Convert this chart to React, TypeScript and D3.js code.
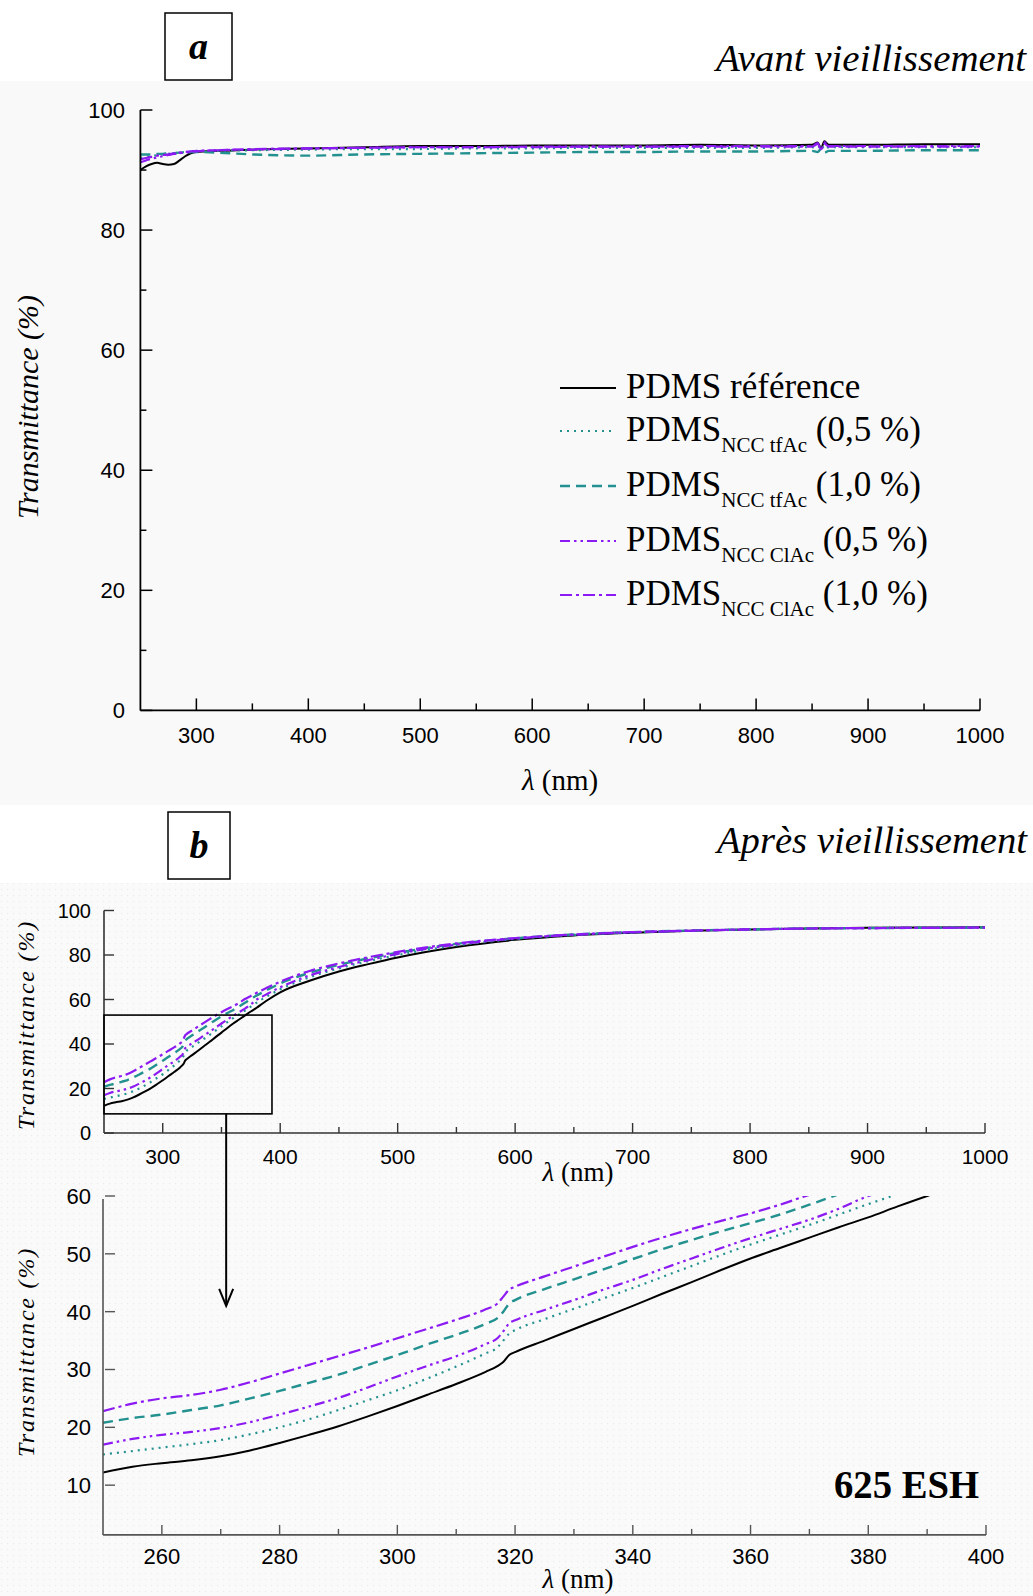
import React from "react";
import * as d3 from "d3";

// ---------- DATA ----------
const seriesNames = [
  "PDMS référence",
  "PDMS NCC tfAc (0,5 %)",
  "PDMS NCC tfAc (1,0 %)",
  "PDMS NCC ClAc (0,5 %)",
  "PDMS NCC ClAc (1,0 %)",
];
const legendSubs = ["", "NCC tfAc", "NCC tfAc", "NCC ClAc", "NCC ClAc"];
const legendTails = [" référence", " (0,5 %)", " (1,0 %)", " (0,5 %)", " (1,0 %)"];

// Panel a : before ageing
const wlA = [250, 255, 260, 265, 270, 275, 280, 285, 290, 295, 300, 320, 350, 400, 450, 500, 550, 600, 650, 700, 750, 800, 850, 855, 858, 861, 865, 900, 950, 1000];
const aRef = [90.0, 90.6, 91.0, 91.2, 91.0, 90.9, 91.0, 91.6, 92.3, 92.8, 93.0, 93.2, 93.4, 93.6, 93.8, 94.0, 94.0, 94.1, 94.1, 94.1, 94.2, 94.1, 94.2, 94.6, 93.6, 94.8, 94.2, 94.2, 94.3, 94.3];
const aTf05 = [92.0, 92.2, 92.3, 92.5, 92.6, 92.7, 92.8, 92.9, 93.0, 93.0, 93.1, 93.2, 93.3, 93.4, 93.5, 93.5, 93.6, 93.6, 93.7, 93.7, 93.7, 93.7, 93.8, 93.6, 94.3, 93.4, 93.8, 93.8, 93.8, 93.8];
const aTf10 = [92.6, 92.6, 92.6, 92.7, 92.7, 92.8, 92.8, 92.9, 92.9, 93.0, 93.0, 92.9, 92.6, 92.4, 92.6, 92.7, 92.8, 92.9, 93.0, 93.0, 93.1, 93.1, 93.2, 93.0, 93.5, 92.9, 93.2, 93.2, 93.3, 93.3];
const aCl05 = [91.3, 91.6, 91.9, 92.1, 92.3, 92.5, 92.7, 92.8, 92.9, 93.0, 93.1, 93.3, 93.4, 93.6, 93.7, 93.8, 93.8, 93.9, 93.9, 93.9, 94.0, 94.0, 94.0, 94.5, 93.3, 94.6, 94.0, 94.0, 94.0, 94.0];
const aCl10 = [91.8, 92.0, 92.2, 92.4, 92.5, 92.6, 92.8, 92.9, 93.0, 93.1, 93.2, 93.3, 93.5, 93.6, 93.7, 93.8, 93.8, 93.8, 93.9, 93.9, 93.9, 93.9, 93.9, 94.3, 93.5, 94.4, 93.9, 93.9, 93.9, 93.9];

// Panel b : after ageing (625 ESH)
const wlB = [250, 255, 260, 265, 270, 275, 280, 285, 290, 295, 300, 305, 310, 315, 317, 318, 319, 320, 325, 330, 335, 340, 345, 350, 355, 360, 365, 370, 375, 380, 385, 390, 400, 425, 450, 475, 500, 550, 600, 650, 700, 750, 800, 850, 900, 950, 1000];
const bRef = [12.2, 13.2, 13.8, 14.3, 15.0, 16.0, 17.3, 18.7, 20.2, 21.9, 23.7, 25.6, 27.5, 29.6, 30.6, 31.3, 32.5, 33.0, 35.0, 37.0, 39.0, 41.0, 43.1, 45.1, 47.2, 49.2, 51.0, 52.8, 54.6, 56.3, 58.2, 60.0, 63.2, 68.4, 72.6, 75.9, 78.9, 83.6, 86.8, 88.8, 90.0, 90.9, 91.5, 91.9, 92.2, 92.4, 92.5];
const bTf05 = [15.3, 15.9, 16.5, 17.1, 17.8, 18.8, 20.0, 21.4, 23.0, 24.7, 26.4, 28.4, 30.5, 32.8, 33.8, 35.0, 36.2, 36.8, 38.7, 40.5, 42.3, 44.1, 46.0, 47.9, 49.8, 51.6, 53.3, 55.0, 56.8, 58.6, 60.3, 61.8, 64.6, 70.0, 74.0, 77.2, 80.0, 84.3, 87.2, 89.0, 90.1, 90.9, 91.5, 91.9, 92.1, 92.3, 92.4];
const bTf10 = [20.8, 21.6, 22.2, 23.0, 23.8, 25.0, 26.3, 27.7, 29.1, 30.8, 32.5, 34.3, 36.0, 37.9, 38.9, 40.0, 41.4, 42.0, 43.9, 45.6, 47.3, 49.1, 50.8, 52.4, 53.9, 55.3, 56.8, 58.5, 60.3, 61.8, 63.2, 64.6, 67.2, 72.0, 75.6, 78.5, 81.0, 85.0, 87.5, 89.2, 90.3, 91.0, 91.5, 91.9, 92.1, 92.2, 92.3];
const bCl05 = [17.0, 18.0, 18.7, 19.2, 19.9, 20.9, 22.2, 23.6, 25.1, 26.9, 28.8, 30.6, 32.3, 34.4, 35.4, 36.6, 38.0, 38.5, 40.3, 42.0, 43.8, 45.5, 47.4, 49.2, 51.0, 52.7, 54.3, 55.9, 57.8, 60.0, 61.4, 62.8, 65.5, 70.8, 74.6, 77.7, 80.5, 84.7, 87.4, 89.1, 90.2, 90.9, 91.5, 91.9, 92.1, 92.2, 92.3];
const bCl10 = [22.8, 24.1, 25.0, 25.6, 26.5, 27.8, 29.3, 30.8, 32.3, 33.8, 35.4, 37.0, 38.6, 40.4, 41.4, 42.6, 43.8, 44.3, 46.1, 47.8, 49.5, 51.2, 52.8, 54.3, 55.7, 57.0, 58.5, 60.2, 61.6, 63.0, 64.3, 65.6, 68.0, 72.8, 76.2, 79.0, 81.4, 85.2, 87.6, 89.2, 90.3, 91.0, 91.5, 91.9, 92.1, 92.2, 92.3];

const panelAValues = [aRef, aTf05, aTf10, aCl05, aCl10];
const panelBValues = [bRef, bTf05, bTf10, bCl05, bCl10];

const xTicksA = [300, 400, 500, 600, 700, 800, 900, 1000];
const xMinorA = [350, 450, 550, 650, 750, 850, 950];
const yTicksA = [0, 20, 40, 60, 80, 100];
const yMinorA = [10, 30, 50, 70, 90];
const yTicksB = [0, 20, 40, 60, 80, 100];
const xTicksC = [260, 280, 300, 320, 340, 360, 380, 400];
const xMinorC = [270, 290, 310, 330, 350, 370, 390];
const yTicksC = [10, 20, 30, 40, 50, 60];
const zoomBox = { x0: 250, x1: 393, y0: 8.6, y1: 53 };
const arrowX = 354;

// ---------- STYLES ----------
const TEAL = "#23918f";
const PURPLE = "#8c1af2";
const styles = [
  { color: "#000", dash: "none", w: 2 },
  { color: TEAL, dash: "2,5", w: 2.2 },
  { color: TEAL, dash: "10,6", w: 2.4 },
  { color: PURPLE, dash: "10,4,2.5,4,2.5,4", w: 2.2 },
  { color: PURPLE, dash: "12,4,3,4", w: 2.2 },
];
const SANS = "'Liberation Sans', Arial, sans-serif";
const SERIF = "'Liberation Serif', 'Times New Roman', serif";

export default function App() {
  const W = 1033, H = 1596;
  const xA = d3.scaleLinear().domain([250, 1000]).range([140.4, 980]);
  const yA = d3.scaleLinear().domain([0, 100]).range([710.4, 110]);
  const xB = d3.scaleLinear().domain([250, 1000]).range([104, 985]);
  const yB = d3.scaleLinear().domain([0, 100]).range([1133, 910.5]);
  const xC = d3.scaleLinear().domain([250, 400]).range([103, 986]);
  const yC = d3.scaleLinear().domain([0, 60]).range([1543, 1196]);
  const yCaxis = yC(1.4);

  const lineOf = (xs: number[], x: any, y: any) =>
    d3.line<number>().x((_, i) => x(xs[i])).y((v) => y(v)).curve(d3.curveMonotoneX);

  const renderLines = (vals: number[][], xs: number[], x: any, y: any, clip?: string) => (
    <g clipPath={clip ? `url(#${clip})` : undefined}>
      {vals.map((v, k) => (
        <path key={k} d={lineOf(xs, x, y)(v) || ""} fill="none" stroke={styles[k].color}
          strokeWidth={styles[k].w} strokeDasharray={styles[k].dash} strokeLinejoin="round" />
      ))}
    </g>
  );

  const legendRows = [398, 441, 496, 551, 605];

  return (
    <svg width={W} height={H} style={{ position: "absolute", left: 0, top: 0, background: "#fff" }}>
      <defs>
        <clipPath id="clipC">
          <rect x={xC(250)} y={yC(60)} width={xC(400) - xC(250)} height={yCaxis - yC(60)} />
        </clipPath>
        <pattern id="dots" width="6" height="6" patternUnits="userSpaceOnUse">
          <rect width="6" height="6" fill="#fafafa" />
          <circle cx="1.5" cy="1.5" r="0.7" fill="#ececec" />
        </pattern>
      </defs>
      <rect x={0} y={81} width={W} height={724} fill="#f9f9f9" />
      <rect x={0} y={883} width={W} height={H - 883} fill="url(#dots)" />

      {/* ===== Panel a ===== */}
      <rect x={165} y={13} width={67} height={67} fill="#fff" stroke="#000" strokeWidth={1.5} />
      <text x={198.5} y={59} textAnchor="middle" fontFamily={SERIF} fontStyle="italic" fontWeight="bold" fontSize={38}>a</text>
      <text x={1026} y={71} textAnchor="end" fontFamily={SERIF} fontStyle="italic" fontSize={38}
        textLength={310} lengthAdjust="spacingAndGlyphs">Avant vieillissement</text>

      {renderLines(panelAValues, wlA, xA, yA)}

      <line x1={xA(250)} x2={xA(250)} y1={yA(100)} y2={yA(0)} stroke="#000" strokeWidth={1.8} />
      <line x1={xA(250)} x2={xA(1000)} y1={yA(0)} y2={yA(0)} stroke="#000" strokeWidth={1.8} />
      {yTicksA.map((t) => (
        <g key={"ya" + t}>
          <line x1={xA(250)} x2={xA(250) + 12} y1={yA(t)} y2={yA(t)} stroke="#000" strokeWidth={1.5} />
          <text x={125} y={yA(t)} dy="0.36em" textAnchor="end" fontFamily={SANS} fontSize={22}>{t}</text>
        </g>
      ))}
      {yMinorA.map((t) => (
        <line key={"yam" + t} x1={xA(250)} x2={xA(250) + 6} y1={yA(t)} y2={yA(t)} stroke="#000" strokeWidth={1.5} />
      ))}
      {xTicksA.map((t) => (
        <g key={"xa" + t}>
          <line x1={xA(t)} x2={xA(t)} y1={yA(0)} y2={yA(0) - 12} stroke="#000" strokeWidth={1.5} />
          <text x={xA(t)} y={743} textAnchor="middle" fontFamily={SANS} fontSize={22}>{t}</text>
        </g>
      ))}
      {xMinorA.map((t) => (
        <line key={"xam" + t} x1={xA(t)} x2={xA(t)} y1={yA(0)} y2={yA(0) - 7} stroke="#000" strokeWidth={1.5} />
      ))}
      <text x={560} y={790} textAnchor="middle" fontFamily={SERIF} fontSize={29}>
        <tspan fontStyle="italic">λ</tspan> (nm)
      </text>
      <text transform={`translate(38,407) rotate(-90)`} textAnchor="middle" fontFamily={SERIF}
        fontStyle="italic" fontSize={30}>Transmittance (%)</text>

      {legendRows.map((by, k) => (
        <g key={"lg" + k}>
          <line x1={560} x2={616} y1={by - 10} y2={by - 10} stroke={styles[k].color}
            strokeWidth={styles[k].w} strokeDasharray={styles[k].dash} />
          <text x={626} y={by} fontFamily={SERIF} fontSize={35} aria-label={seriesNames[k]}>
            PDMS
            {legendSubs[k] ? (
              <>
                <tspan fontSize={21} dy={11}>{legendSubs[k]}</tspan>
                <tspan dy={-11}>{legendTails[k]}</tspan>
              </>
            ) : (
              <tspan>{legendTails[k]}</tspan>
            )}
          </text>
        </g>
      ))}

      {/* ===== Panel b ===== */}
      <rect x={168} y={812} width={62} height={67} fill="#fff" stroke="#000" strokeWidth={1.5} />
      <text x={199} y={858} textAnchor="middle" fontFamily={SERIF} fontStyle="italic" fontWeight="bold" fontSize={38}>b</text>
      <text x={1027} y={853} textAnchor="end" fontFamily={SERIF} fontStyle="italic" fontSize={38}
        textLength={310} lengthAdjust="spacingAndGlyphs">Après vieillissement</text>

      {renderLines(panelBValues, wlB, xB, yB)}

      <line x1={xB(250)} x2={xB(250)} y1={yB(100)} y2={yB(0)} stroke="#333" strokeWidth={1.6} />
      <line x1={xB(250)} x2={xB(1000)} y1={yB(0)} y2={yB(0)} stroke="#333" strokeWidth={1.6} />
      {yTicksB.map((t) => (
        <g key={"yb" + t}>
          <line x1={xB(250)} x2={xB(250) + 10} y1={yB(t)} y2={yB(t)} stroke="#333" strokeWidth={1.4} />
          <text x={91} y={yB(t)} dy="0.36em" textAnchor="end" fontFamily={SANS} fontSize={20}>{t}</text>
        </g>
      ))}
      {xTicksA.map((t) => (
        <g key={"xb" + t}>
          <line x1={xB(t)} x2={xB(t)} y1={yB(0)} y2={yB(0) - 10} stroke="#333" strokeWidth={1.4} />
          <text x={xB(t)} y={1164} textAnchor="middle" fontFamily={SANS} fontSize={21}>{t}</text>
        </g>
      ))}
      {xMinorA.map((t) => (
        <line key={"xbm" + t} x1={xB(t)} x2={xB(t)} y1={yB(0)} y2={yB(0) - 6} stroke="#333" strokeWidth={1.4} />
      ))}
      <text x={578} y={1181} textAnchor="middle" fontFamily={SERIF} fontSize={27}>
        <tspan fontStyle="italic">λ</tspan> (nm)
      </text>
      <text transform={`translate(34,1025) rotate(-90)`} textAnchor="middle" fontFamily={SERIF}
        fontStyle="italic" fontSize={24} letterSpacing={1.8}>Transmittance (%)</text>

      <rect x={xB(zoomBox.x0)} y={yB(zoomBox.y1)} width={xB(zoomBox.x1) - xB(zoomBox.x0)}
        height={yB(zoomBox.y0) - yB(zoomBox.y1)} fill="none" stroke="#000" strokeWidth={1.6} />
      <line x1={xB(arrowX)} x2={xB(arrowX)} y1={yB(zoomBox.y0)} y2={yC(41)} stroke="#000" strokeWidth={2} />
      <path d={`M${xB(arrowX) - 7},${yC(41) - 17} L${xB(arrowX)},${yC(41)} L${xB(arrowX) + 7},${yC(41) - 17}`}
        fill="none" stroke="#000" strokeWidth={2} />

      {renderLines(panelBValues, wlB, xC, yC, "clipC")}
      <line x1={xC(250)} x2={xC(250)} y1={yC(59.5)} y2={yCaxis} stroke="#555" strokeWidth={1.6} />
      <line x1={xC(250)} x2={xC(400)} y1={yCaxis} y2={yCaxis} stroke="#555" strokeWidth={1.6} />
      {yTicksC.map((t) => (
        <g key={"yc" + t}>
          <line x1={xC(250) + 2} x2={xC(250) + 12} y1={yC(t)} y2={yC(t)} stroke="#555" strokeWidth={1.4} />
          <text x={91} y={yC(t)} dy="0.36em" textAnchor="end" fontFamily={SANS} fontSize={22}>{t}</text>
        </g>
      ))}
      {xTicksC.map((t) => (
        <g key={"xc" + t}>
          <line x1={xC(t)} x2={xC(t)} y1={yCaxis} y2={yCaxis - 10} stroke="#555" strokeWidth={1.4} />
          <text x={xC(t)} y={1564} textAnchor="middle" fontFamily={SANS} fontSize={22}>{t}</text>
        </g>
      ))}
      {xMinorC.map((t) => (
        <line key={"xcm" + t} x1={xC(t)} x2={xC(t)} y1={yCaxis} y2={yCaxis - 6} stroke="#555" strokeWidth={1.4} />
      ))}
      <text x={578} y={1588} textAnchor="middle" fontFamily={SERIF} fontSize={27}>
        <tspan fontStyle="italic">λ</tspan> (nm)
      </text>
      <text transform={`translate(34,1352) rotate(-90)`} textAnchor="middle" fontFamily={SERIF}
        fontStyle="italic" fontSize={24} letterSpacing={1.8}>Transmittance (%)</text>
      <text x={979} y={1498} textAnchor="end" fontFamily={SERIF} fontWeight="bold" fontSize={40}
        textLength={145} lengthAdjust="spacingAndGlyphs">625 ESH</text>
    </svg>
  );
}
